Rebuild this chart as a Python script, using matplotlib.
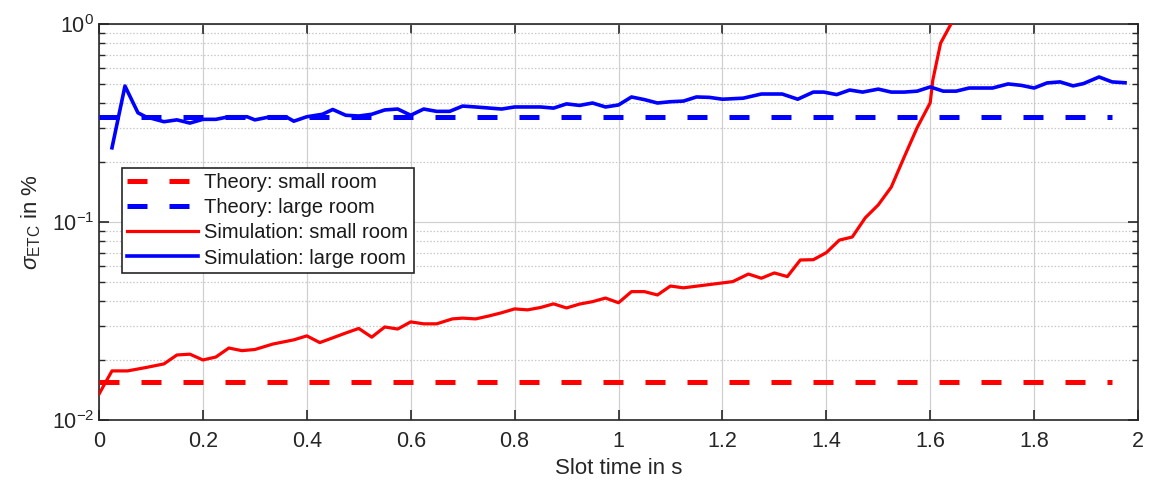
import numpy as np
import matplotlib
matplotlib.use("Agg")
import matplotlib.pyplot as plt
from matplotlib.ticker import LogLocator, NullFormatter

plt.rcParams['font.family'] = ['Liberation Sans', 'DejaVu Sans']
plt.rcParams['mathtext.fontset'] = 'custom'
plt.rcParams['mathtext.rm'] = 'Liberation Sans'
plt.rcParams['mathtext.it'] = 'Liberation Sans:italic'
plt.rcParams['mathtext.bf'] = 'Liberation Sans:bold'

# ---- data ----
theory_x = [0.0, 1.95]
theory_small = [0.0156, 0.0156]
theory_large = [0.338, 0.338]

sim_large_x = [0.025, 0.05, 0.075, 0.09, 0.125, 0.15, 0.175, 0.2, 0.225, 0.25,
               0.285, 0.3, 0.33, 0.36, 0.375, 0.4, 0.43, 0.45, 0.475, 0.5,
               0.525, 0.55, 0.575, 0.6, 0.625, 0.65, 0.675, 0.7, 0.725, 0.775,
               0.8, 0.85, 0.875, 0.9, 0.925, 0.95, 0.975, 1.0, 1.025, 1.05,
               1.075, 1.1, 1.125, 1.15, 1.175, 1.2, 1.24, 1.275, 1.315, 1.345,
               1.375, 1.395, 1.42, 1.445, 1.47, 1.5, 1.525, 1.55, 1.575, 1.6,
               1.625, 1.65, 1.675, 1.72, 1.75, 1.775, 1.8, 1.825, 1.85, 1.875,
               1.895, 1.925, 1.95, 1.975]
sim_large = [0.237, 0.486, 0.356, 0.340, 0.321, 0.328, 0.316, 0.330, 0.330, 0.340,
             0.340, 0.328, 0.340, 0.340, 0.323, 0.340, 0.350, 0.370, 0.346, 0.343,
             0.350, 0.368, 0.372, 0.346, 0.372, 0.362, 0.362, 0.385, 0.381, 0.372,
             0.381, 0.381, 0.376, 0.395, 0.388, 0.399, 0.381, 0.390, 0.428, 0.415,
             0.399, 0.405, 0.408, 0.428, 0.426, 0.417, 0.422, 0.443, 0.443, 0.417,
             0.453, 0.453, 0.440, 0.464, 0.453, 0.469, 0.453, 0.453, 0.458, 0.481,
             0.458, 0.458, 0.475, 0.475, 0.498, 0.490, 0.475, 0.504, 0.510, 0.487,
             0.500, 0.540, 0.510, 0.505]

sim_small_x = [0.0, 0.012, 0.025, 0.055, 0.09, 0.125, 0.15, 0.175, 0.2, 0.225,
               0.25, 0.275, 0.3, 0.335, 0.375, 0.4, 0.425, 0.45, 0.475, 0.5,
               0.525, 0.55, 0.575, 0.6, 0.625, 0.65, 0.68, 0.7, 0.725, 0.75,
               0.775, 0.8, 0.825, 0.85, 0.875, 0.9, 0.925, 0.95, 0.975, 1.0,
               1.025, 1.05, 1.075, 1.1, 1.125, 1.22, 1.25, 1.275, 1.3, 1.325,
               1.35, 1.375, 1.4, 1.425, 1.45, 1.475, 1.5, 1.525, 1.55, 1.575,
               1.6, 1.605, 1.62, 1.64, 1.65]
sim_small = [0.0135, 0.0154, 0.0177, 0.0177, 0.0184, 0.0192, 0.0213, 0.0215, 0.0201, 0.0208,
             0.0231, 0.0224, 0.0227, 0.0242, 0.0254, 0.0266, 0.0246, 0.0260, 0.0275, 0.0290,
             0.0262, 0.0295, 0.0288, 0.0313, 0.0306, 0.0306, 0.0324, 0.0327, 0.0324, 0.0335,
             0.0348, 0.0364, 0.0360, 0.0370, 0.0386, 0.0368, 0.0385, 0.0396, 0.0413, 0.0391,
             0.0445, 0.0445, 0.0428, 0.0475, 0.0465, 0.0500, 0.0546, 0.0520, 0.0553, 0.0530,
             0.0643, 0.0645, 0.0700, 0.0810, 0.0840, 0.1050, 0.1220, 0.1500, 0.2130, 0.3000,
             0.4000, 0.5200, 0.8000, 1.0000, 1.2000]

x_ticks = [0, 0.2, 0.4, 0.6, 0.8, 1, 1.2, 1.4, 1.6, 1.8, 2]
x_ticklabels = ['0', '0.2', '0.4', '0.6', '0.8', '1', '1.2', '1.4', '1.6', '1.8', '2']
legend_labels = ["Theory: small room", "Theory: large room",
                 "Simulation: small room", "Simulation: large room"]

# ---- figure ----
fig = plt.figure(figsize=(11.51, 4.87), dpi=100)
ax = fig.add_axes([99 / 1151, 1 - 420 / 487, 1039 / 1151, 396 / 487])

red = (1, 0, 0)
blue = (0, 0, 1)
dash = (4, 4.4)

ax.plot(theory_x, theory_small, color=red, lw=3.6, dashes=dash,
        dash_capstyle='butt', label=legend_labels[0], zorder=3)
ax.plot(theory_x, theory_large, color=blue, lw=3.6, dashes=dash,
        dash_capstyle='butt', label=legend_labels[1], zorder=3)
ax.plot(sim_small_x, sim_small, color=red, lw=2.3, label=legend_labels[2], zorder=4)
ax.plot(sim_large_x, sim_large, color=blue, lw=2.6, label=legend_labels[3], zorder=4)

ax.set_yscale('log')
ax.set_xlim(0, 2)
ax.set_ylim(1e-2, 1e0)
ax.set_xticks(x_ticks)
ax.set_xticklabels(x_ticklabels)
ax.yaxis.set_major_locator(LogLocator(base=10, numticks=10))
ax.yaxis.set_minor_locator(LogLocator(base=10, subs=np.arange(2, 10), numticks=10))
ax.yaxis.set_minor_formatter(NullFormatter())

axcol = '#262626'
ax.tick_params(axis='both', which='both', direction='in', top=True, right=True,
               colors=axcol, labelcolor='#262626', labelsize=15.5)
ax.tick_params(axis='both', which='major', length=7, width=1.2)
ax.tick_params(axis='y', which='minor', length=4, width=1.0)
ax.tick_params(axis='x', pad=8)
for sp in ax.spines.values():
    sp.set_color(axcol)
    sp.set_linewidth(1.2)

ax.grid(True, which='major', axis='both', color='#d0d0d0', lw=0.9, ls='-')
ax.grid(True, which='minor', axis='y', color='#c8c8c8', lw=0.9, ls=(0, (1.2, 1.5)))
ax.set_axisbelow(True)

ax.set_xlabel('Slot time in s', fontsize=16, color='#262626', labelpad=4)
ax.set_ylabel(r'$\sigma_{\mathrm{ETC}}$ in %', fontsize=16, color='#262626', labelpad=6)

leg = ax.legend(loc='upper left', bbox_to_anchor=(0.022, 0.637), fontsize=14.5,
                frameon=True, fancybox=False, edgecolor='#262626', framealpha=1,
                handlelength=3.5, handletextpad=0.3, borderpad=0.28, labelspacing=0.3,
                borderaxespad=0)
leg.get_frame().set_linewidth(1.2)
for t in leg.get_texts():
    t.set_color('#1a1a1a')

fig.savefig('out.png', dpi=100)
